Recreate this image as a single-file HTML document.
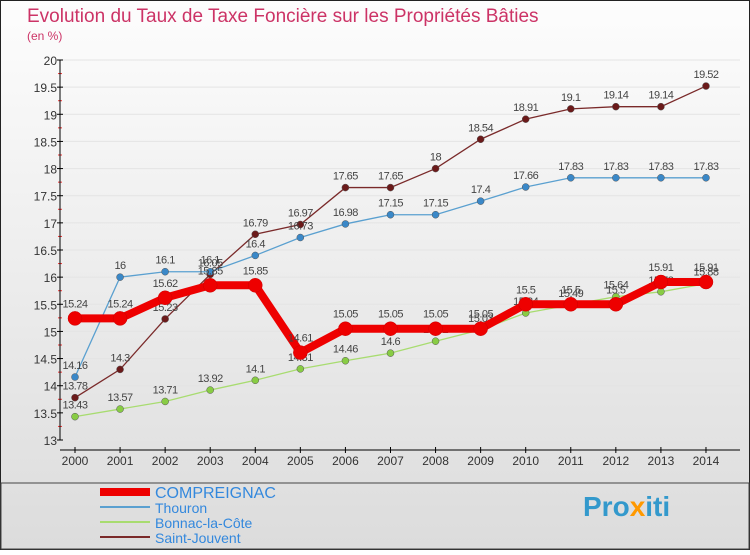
<!DOCTYPE html>
<html><head><meta charset="utf-8"><style>
body{margin:0;width:750px;height:550px;overflow:hidden;font-family:"Liberation Sans",sans-serif}
</style></head><body>
<svg id="c" width="750" height="550" xmlns="http://www.w3.org/2000/svg">
<defs><linearGradient id="bg" x1="0" y1="0" x2="0" y2="1"><stop offset="0" stop-color="#fdfdfd"/><stop offset="1" stop-color="#dcdcdc"/></linearGradient></defs>
<rect x="0.5" y="0.5" width="749" height="549" fill="url(#bg)" stroke="#222"/>
<text x="27" y="22" font-size="19" fill="#cc3366">Evolution du Taux de Taxe Foncière sur les Propriétés Bâties</text>
<text x="27" y="40" font-size="12" fill="#cc3366">(en %)</text>
<g id="grid"></g><g id="axes"></g><g id="series"></g><g id="legend"></g>
<text x="583" y="516" font-size="28" font-weight="bold" fill="#3399cc">Pro<tspan fill="#ff9900">x</tspan>iti</text>
</svg>
<script>
const years=["2000","2001","2002","2003","2004","2005","2006","2007","2008","2009","2010","2011","2012","2013","2014"];
const yTicks=[13,13.5,14,14.5,15,15.5,16,16.5,17,17.5,18,18.5,19,19.5,20];
const compreignac=[15.24,15.24,15.62,15.85,15.85,14.61,15.05,15.05,15.05,15.05,15.5,15.5,15.5,15.91,15.91];
const thouron=[14.16,16,16.1,16.1,16.4,16.73,16.98,17.15,17.15,17.4,17.66,17.83,17.83,17.83,17.83];
const bonnac=[13.43,13.57,13.71,13.92,14.1,14.31,14.46,14.6,14.82,15.03,15.34,15.49,15.64,15.73,15.88];
const stjouvent=[13.78,14.3,15.23,16.05,16.79,16.97,17.65,17.65,18,18.54,18.91,19.1,19.14,19.14,19.52];
const NS="http://www.w3.org/2000/svg";
const X=i=>75+i*45.07, Y=v=>440-(v-13)*380/7;
function mk(t,a,p){const e=document.createElementNS(NS,t);for(const k in a)e.setAttribute(k,a[k]);p.appendChild(e);return e;}
const grid=document.getElementById('grid'),axes=document.getElementById('axes');
yTicks.forEach(v=>{
 const l=mk('line',{x1:60,x2:740,y1:Y(v),y2:Y(v),stroke:'#e4e4e4'},grid);
 
 
 const t=mk('text',{x:57,y:Y(v)+5,'font-size':12,'text-anchor':'end',fill:'#333'},axes);t.textContent=String(v);
 
 
 mk('line',{x1:57,x2:63,y1:Y(v),y2:Y(v),stroke:'#000'},axes);
 if(v<20)mk('line',{x1:58,x2:62,y1:Y(v+0.25),y2:Y(v+0.25),stroke:'#e33'},axes);
});
const ya=mk('line',{x1:60,x2:60,y1:Y(20),y2:Y(13),stroke:'#000'},axes);


const xa=mk('line',{x1:60,x2:740,y1:450,y2:450,stroke:'#000'},axes);


years.forEach((y,i)=>{
 mk('line',{x1:X(i),x2:X(i),y1:447,y2:453,stroke:'#000'},axes);
 const t=mk('text',{x:X(i),y:465,'font-size':12,'text-anchor':'middle',fill:'#333'},axes);t.textContent=y;
 
 
});
const S=document.getElementById('series');
const defs=[
 {d:stjouvent,c:'#7a2a2a',f:'#6b1a1a',w:1.3,r:3.5,n:'saint-jouvent'},
 {d:thouron,c:'#5aa0d0',f:'#3a88c8',w:1.3,r:3.5,n:'thouron'},
 {d:bonnac,c:'#a8dc70',f:'#88cc44',w:1.3,r:3.5,n:'bonnac-la-cote'},
 {d:compreignac,c:'#ee0000',f:'#ee0000',w:8,r:7,n:'compreignac'}];
defs.forEach(s=>{
 const g=mk('g',{},S);
 
 
 const p=mk('polyline',{points:s.d.map((v,i)=>X(i)+','+Y(v)).join(' '),fill:'none',stroke:s.c,'stroke-width':s.w},g);
 
 
 s.d.forEach((v,i)=>{
  const c=mk('circle',{cx:X(i),cy:Y(v),r:s.r,fill:s.f,stroke:s.w>2?'#c00':'#555','stroke-width':0.5},g);
  
  
  const t=mk('text',{x:X(i),y:Y(v)-(s.w>2?11:8),'font-size':11,'text-anchor':'middle',fill:'#444','letter-spacing':'-0.5'},g);t.textContent=String(v);
  
  
 });
});
const L=document.getElementById('legend');
const lb=mk('rect',{x:1,y:483,width:748,height:66,fill:'none',stroke:'#444'},L);
const items=[['COMPREIGNAC','#ee0000',8],['Thouron','#5aa0d0',2],['Bonnac-la-Côte','#a8dc70',2],['Saint-Jouvent','#7a2a2a',2]];
items.forEach((it,k)=>{
 const y=492+k*15;
 const g=mk('g',{},L);
 
 
 mk('line',{x1:100,x2:150,y1:y,y2:y,stroke:it[1],'stroke-width':it[2]},g);
 const t=mk('text',{x:155,y:y+6,'font-size':k==0?16:14,fill:'#3388dd'},g);t.textContent=it[0];
});
</script>
</body></html>
